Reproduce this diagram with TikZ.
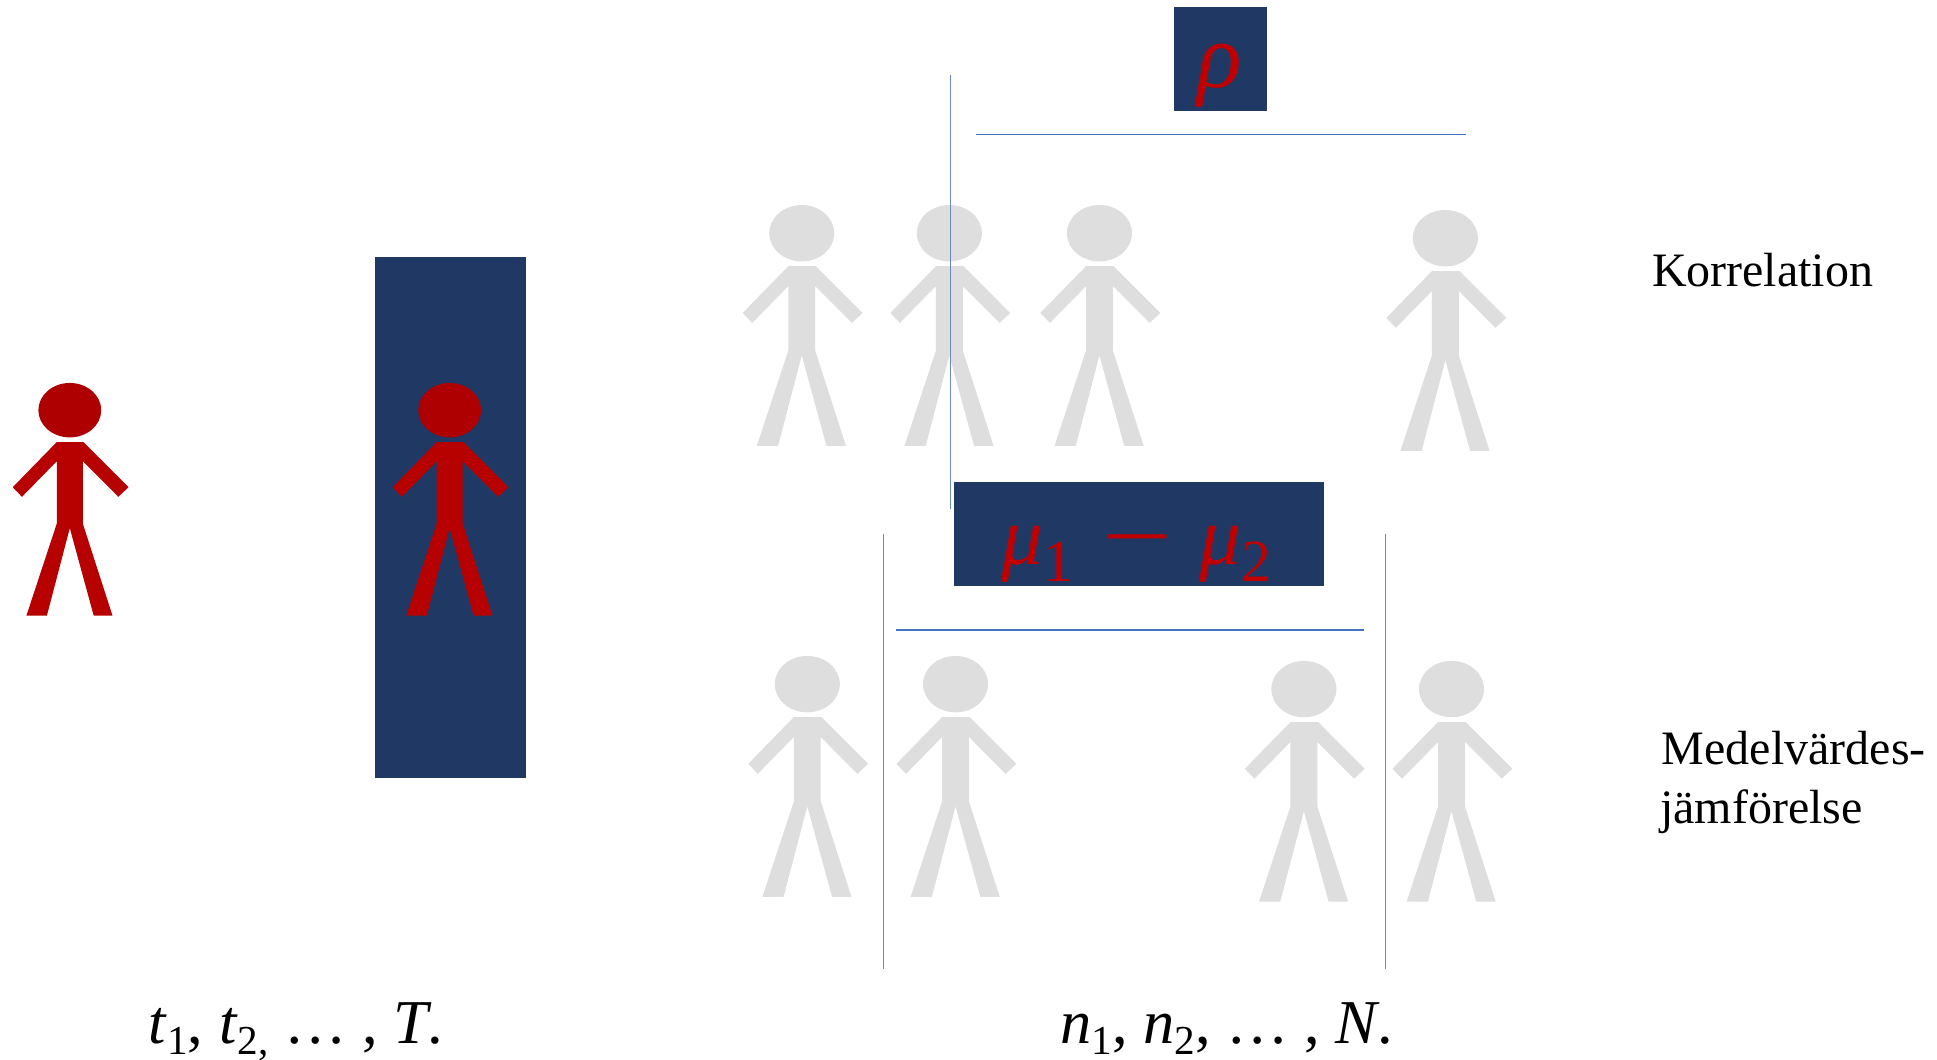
\documentclass[tikz,border=0pt]{standalone}
\usepackage{fontspec}
\setmainfont{Liberation Serif}
\definecolor{navy}{HTML}{1F3864}
\definecolor{redhead}{HTML}{AE0000}
\definecolor{redbody}{HTML}{B70000}
\definecolor{mathred}{HTML}{C00000}
\definecolor{ghost}{HTML}{DEDEDE}
\definecolor{rule}{HTML}{4472C4}
\definecolor{vrule}{HTML}{6A87C8}
\newcommand{\stickman}[5]{%
  \begin{scope}[shift={(#1,#2)},xscale=0.2765*#3,yscale=0.288*#3]
    \fill[#4] (0,76.5) ellipse [x radius=92,y radius=76.5];
    \fill[#5] (-38,166) -- (40,166) -- (172,293) -- (142,320) -- (38,220) -- (38,395)
      -- (125,654) -- (70,654) -- (0,408) -- (-67,654) -- (-127,654) -- (-38,395)
      -- (-38,220) -- (-140,320) -- (-167,293) -- cycle;
  \end{scope}}
\newcommand{\lowsub}[1]{\raisebox{-0.17em}{\fontsize{20}{20}\selectfont\upshape #1}}
\newcommand{\musub}[1]{\raisebox{-0.2em}{\fontsize{29}{29}\selectfont\upshape #1}}
\tikzset{
  x=0.6pt,y=-0.6pt,
  panel/.style={fill=navy,inner sep=0pt,outer sep=0pt},
  hline/.style={draw=rule,line width=0.6pt},
  vline/.style={draw=vrule,line width=0.6pt},
  label/.style={inner sep=0pt,anchor=base west,font=\fontsize{23.3}{28}\selectfont},
  axis/.style={inner sep=0pt,anchor=base west,font=\fontsize{30.3}{36}\selectfont},
  symbol/.style={inner sep=0pt,anchor=base,text=mathred,font=\fontsize{40.5}{46}\selectfont\itshape},
}
\begin{document}
\begin{tikzpicture}
\useasboundingbox (0,0) rectangle (1568,858);
\fill[white] (0,0) rectangle (1568,858);

% panels
\node[panel,minimum width=73pt,minimum height=252.9pt] (tall) at (364.6,418.7) {};
\node[panel,minimum width=45pt,minimum height=50.4pt] (rhobox) at (988,48) {};
\node[panel,minimum width=179.8pt,minimum height=50.7pt] (mubox) at (921.7,432.5) {};

% figures
\stickman{56.5}{310}{1}{redhead}{redbody}
\stickman{364}{310}{1}{redhead}{redbody}
\stickman{649}{166}{1.035}{ghost}{ghost}
\stickman{768.5}{166}{1.035}{ghost}{ghost}
\stickman{890}{166}{1.035}{ghost}{ghost}
\stickman{1170}{170}{1.035}{ghost}{ghost}
\stickman{653.5}{531}{1.035}{ghost}{ghost}
\stickman{773.5}{531}{1.035}{ghost}{ghost}
\stickman{1055.5}{535}{1.035}{ghost}{ghost}
\stickman{1175}{535}{1.035}{ghost}{ghost}

% rules
\coordinate (va) at (769.5,61);  \coordinate (vb) at (769.5,412);
\coordinate (ha) at (790,109); \coordinate (hb) at (1186.5,109);
\coordinate (la) at (725,510); \coordinate (lb) at (1104,510);
\coordinate (pa) at (715,432);   \coordinate (pb) at (715,784);
\coordinate (qa) at (1121.7,432);\coordinate (qb) at (1121.7,784);
\draw[vline] (va) -- (vb);
\draw[hline] (ha) -- (hb);
\draw[hline] (la) -- (lb);
\draw[vline] (pa) -- (pb);
\draw[vline] (qa) -- (qb);

% symbols
\node[symbol,font=\fontsize{45}{50}\selectfont\itshape] (rho) at (987,71) {ρ};
\node[symbol] (mu) at (920,457) {μ\musub{1} \scalebox{1.5}[1]{−} μ\musub{2}};

% labels
\node[label] (korr) at (1337,232) {Korrelation};
\node[label] (med) at (1345,619) {Medelvärdes-};
\node[label] (jam) at (1343.5,667) {jämförelse};
\node[axis] (time) at (120,845) {\textit{t}\lowsub{1}, \textit{t}\lowsub{2,} … , \textit{T}.};
\node[axis] (people) at (858,845) {\textit{n}\lowsub{1}, \textit{n}\lowsub{2}, … , \textit{N}.};
\end{tikzpicture}
\end{document}
